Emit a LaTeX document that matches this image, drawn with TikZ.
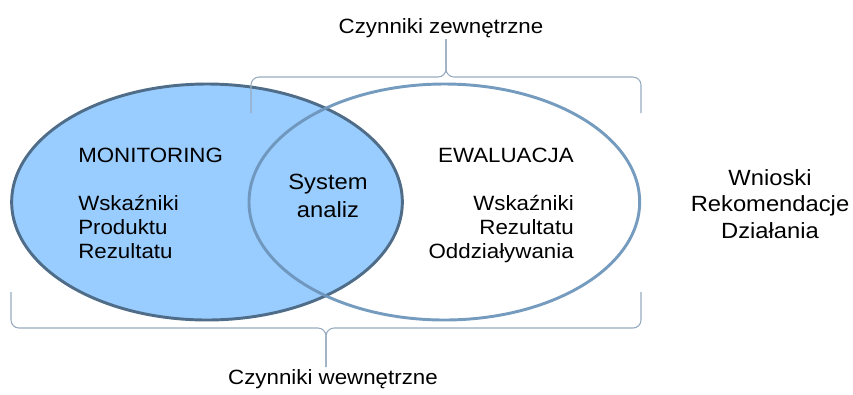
\documentclass[tikz,border=0pt]{standalone}
\usepackage{fontspec}
\setmainfont{Liberation Sans}[FakeStretch=1.08]
\usetikzlibrary{shapes.geometric}
\definecolor{monfill}{RGB}{153,204,255}
\definecolor{monline}{RGB}{79,109,136}
\definecolor{ewaline}{RGB}{110,150,188}
\definecolor{braceline}{RGB}{150,170,190}

\begin{document}
\begin{tikzpicture}[x=0.75pt, y=-0.75pt]
  \tikzset{node distance=178pt, set/.style={ellipse, minimum width=293pt, minimum height=177pt, inner sep=0pt, line width=2.2pt}, lbl/.style={inner sep=0pt, font=\fontsize{15.5}{18}\selectfont}, brace/.style={draw=braceline, line width=0.8pt, rounded corners=6pt}}
  \useasboundingbox (0,0) rectangle (853,394);
  \node[set, fill=monfill, draw=monline] (mon) at (207,202) {};
  \node[set, draw=ewaline, draw opacity=0.95, right of=mon] (ewa) {};
  \node[lbl, anchor=north west, align=left] (montxt) at (78,148) {MONITORING\\[18pt]Wskaźniki\\Produktu\\Rezultatu};
  \node[lbl, anchor=north east, align=right] (ewatxt) at (574,148) {EWALUACJA\\[18pt]Wskaźniki\\Rezultatu\\Oddziaływania};
  \node[lbl, anchor=north, align=center, font=\fontsize{16.5}{21}\selectfont] (sys) at (328,174) {System\\analiz};
  \node[lbl, anchor=north, align=center, font=\fontsize{16.5}{20}\selectfont] (wnioski) at (770,169) {Wnioski\\Rekomendacje\\Działania};
  \node[lbl, anchor=base] (zew) at (441,33) {Czynniki zewnętrzne};
  \node[lbl, anchor=base] (wew) at (333,384) {Czynniki wewnętrzne};
  \coordinate (ztip) at (446,39);
  \coordinate (wtip) at (326,367);
  \draw[brace] (251,113) -- (251,77) -- (ztip |- 0,77) -- (ztip);
  \draw[brace] (ztip) -- (ztip |- 0,77) -- (641,77) -- (641,113);
  \draw[brace] (11,292) -- (11,328) -- (wtip |- 0,328) -- (wtip);
  \draw[brace] (wtip) -- (wtip |- 0,328) -- (641,328) -- (641,292);
\end{tikzpicture}
\end{document}
